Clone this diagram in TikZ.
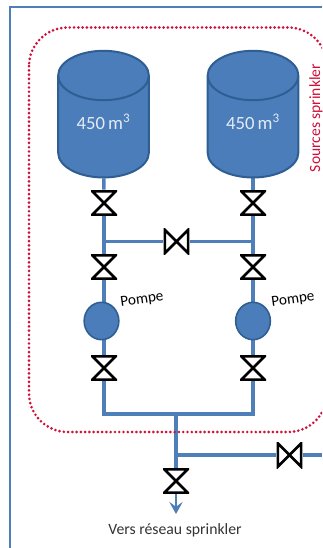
\documentclass[tikz,border=0pt]{standalone}
\usepackage{fontspec}
\setmainfont{Carlito}
\usepackage{xcolor}
\usetikzlibrary{arrows.meta,shapes.geometric,backgrounds}
\definecolor{tankblue}{HTML}{4A7DBA}
\definecolor{tankedge}{HTML}{2F5E93}
\definecolor{pipeblue}{HTML}{4F7FB8}
\definecolor{srcred}{HTML}{D0103A}
\newcommand{\bowtievert}{%
  \draw[black, line width=1.9pt, line join=miter]
    ([shift={(1.1pt,-1.1pt)}]path picture bounding box.north west)
    -- ([shift={(-1.1pt,-1.1pt)}]path picture bounding box.north east)
    -- ([shift={(1.1pt,1.1pt)}]path picture bounding box.south west)
    -- ([shift={(-1.1pt,1.1pt)}]path picture bounding box.south east) -- cycle;}
\newcommand{\bowtiehoriz}{%
  \draw[black, line width=1.9pt, line join=miter]
    ([shift={(1.1pt,-1.1pt)}]path picture bounding box.north west)
    -- ([shift={(1.1pt,1.1pt)}]path picture bounding box.south west)
    -- ([shift={(-1.1pt,-1.1pt)}]path picture bounding box.north east)
    -- ([shift={(-1.1pt,1.1pt)}]path picture bounding box.south east) -- cycle;}
\tikzset{
  tank/.style={cylinder, shape border rotate=90, aspect=0.92, draw=tankedge, line width=1.5pt,
    fill=tankblue, minimum width=68pt, minimum height=95pt, inner sep=0pt,
    text height=10pt, text depth=6pt,
    text=white!85!tankblue, font=\fontsize{14}{16}\selectfont},
  valve/.style={rectangle, fill=white, minimum size=19.5pt, inner sep=0pt,
    path picture={\bowtievert}},
  valveh/.style={rectangle, fill=white, minimum size=19.5pt, inner sep=0pt,
    path picture={\bowtiehoriz}},
  pump/.style={ellipse, draw=tankedge, line width=1.2pt, fill=tankblue,
    minimum width=26pt, minimum height=28pt, inner sep=0pt},
  pumplabel/.style={font=\fontsize{11.4}{12}\selectfont, rotate=8, inner sep=0pt},
  pipe/.style={draw=pipeblue, line width=2.5pt},
  link/.style={draw=pipeblue, line width=1.7pt},
}
\begin{document}
\begin{tikzpicture}[x=0.75pt, y=-0.75pt]
\clip (0,0) rectangle (322,548);
% Frame and source zone
\draw[pipeblue, line width=1.3pt] (322,7) -| (10,548);
\draw[srcred, line width=2.2pt, line cap=round, dash pattern=on 0pt off 3.2pt, rounded corners=29pt]
  (29,27.5) rectangle (327,432);
% Tanks
\node[tank] (tank1) at (103.5,127) {450\,m\textsuperscript{3}};
\node[tank] (tank2) at (253,127)   {450\,m\textsuperscript{3}};
% Left line
\node[valve] (v1a) at (104,203) {};
\node[valve] (v1b) at (104,267) {};
\node[pump]  (pump1) at (101.5,321) {};
\node[valve] (v1c) at (104,368) {};
% Right line
\node[valve] (v2a) at (253,203) {};
\node[valve] (v2b) at (253,267) {};
\node[pump]  (pump2) at (253,321) {};
\node[valve] (v2c) at (253,368) {};
% Cross link and outlet
\node[valveh] (vm)  at (176.5,241.5) {};
\node[valveh] (vbr) at (289.5,455) {};
\node[valve]  (vout) at (176,481) {};
\coordinate (jl) at (104,241.5);
\coordinate (jr) at (253,241.5);
\coordinate (jb) at (176,414);
\coordinate (jc) at (176,455);
\coordinate (brend) at (322,455);
\coordinate (out) at (176,514);
% Labels
\node[pumplabel] (lab1) at (142,300) {Pompe};
\node[pumplabel] (lab2) at (293,300) {Pompe};
\node[rotate=90, text=srcred, font=\fontsize{11.7}{13}\selectfont, inner sep=0pt] (labsrc) at (316,118) {Sources sprinkler};
\node[font=\fontsize{11.8}{13}\selectfont, inner sep=0pt, text=black!80] (labout) at (175,530) {Vers réseau sprinkler};
% Pipes
\begin{scope}[on background layer]
  \draw[pipe] (tank1) -- (v1a);
  \draw[pipe] (v1a) -- (v1b);
  \draw[pipe] (v1b) -- (v1b |- pump1);
  \draw[pipe] (v1b |- pump1) -- (v1c);
  \draw[pipe] (tank2) -- (v2a);
  \draw[pipe] (v2a) -- (v2b);
  \draw[pipe] (v2b) -- (pump2);
  \draw[pipe] (pump2) -- (v2c);
  \draw[pipe] (v1c) |- (jb) -| (v2c);
  \draw[link] (jl) -- (vm);
  \draw[link] (vm) -- (jr);
  \draw[pipe] (jb) -- (vout);
  \draw[pipe] (jc) -- (vbr);
  \draw[pipe] (vbr) -- (brend);
\end{scope}
\draw[pipeblue, line width=2.2pt, -{Stealth[length=9pt, width=10pt, inset=3.5pt]}] (vout) -- (out);
\end{tikzpicture}
\end{document}
